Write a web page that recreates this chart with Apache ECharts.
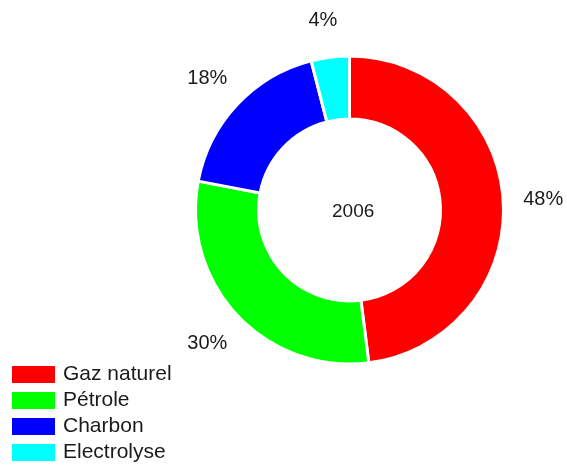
<!DOCTYPE html>
<html>
<head>
<meta charset="utf-8">
<script src="https://cdn.jsdelivr.net/npm/echarts@6/dist/echarts.min.js"></script>
<style>
html, body { margin: 0; padding: 0; background: #fff; }
#chart { width: 567px; height: 466px; }
</style>
</head>
<body>
<div id="chart"></div>
<script>
// sources d'hydrogène, 2006
var sources = ['Gaz naturel', 'Pétrole', 'Charbon', 'Electrolyse'];
var parts = [48, 30, 18, 4];
var colors = ['#ff0000', '#00ff00', '#0000ff', '#00ffff'];
var year = '2006';

var data = [];
for (var i = 0; i < sources.length; i++) {
    data.push({ name: sources[i], value: parts[i], itemStyle: { color: colors[i] } });
}
// petits décalages des étiquettes (style Excel)
var labelShift = [[0, 0], [6, 18], [6, -16], [14, -22]];

var myChart = echarts.init(document.getElementById('chart'));
var option = {
    animation: false,
    legend: {
        orient: 'vertical',
        left: 12,
        top: 364,
        padding: 0,
        icon: 'rect',
        itemWidth: 43,
        itemHeight: 17,
        itemGap: 5,
        selectedMode: false,
        itemStyle: { borderWidth: 0 },
        textStyle: { fontSize: 21, color: '#1a1a1a', padding: [0, 0, 0, 3], fontFamily: 'Liberation Sans, Arial, sans-serif' },
        data: sources
    },
    graphic: [{
        type: 'text',
        left: 332,
        top: 202,
        style: { text: year, fontSize: 19, fill: '#1a1a1a', fontFamily: 'Liberation Sans, Arial, sans-serif' }
    }],
    series: [{
        type: 'pie',
        center: [349.5, 210],
        radius: [91, 154],
        startAngle: 90,
        clockwise: true,
        avoidLabelOverlap: false,
        itemStyle: { borderColor: '#fff', borderWidth: 3 },
        label: {
            show: true,
            position: 'outside',
            formatter: '{c}%',
            fontSize: 20,
            color: '#1a1a1a',
            fontFamily: 'Liberation Sans, Arial, sans-serif',
            distanceToLabelLine: 5
        },
        labelLine: { show: false, length: 15, length2: 0 },
        labelLayout: function (params) {
            var s = labelShift[params.dataIndex];
            return { dx: s[0], dy: s[1] };
        },
        emphasis: { disabled: true },
        data: data
    }]
};
myChart.setOption(option);
</script>
</body>
</html>
